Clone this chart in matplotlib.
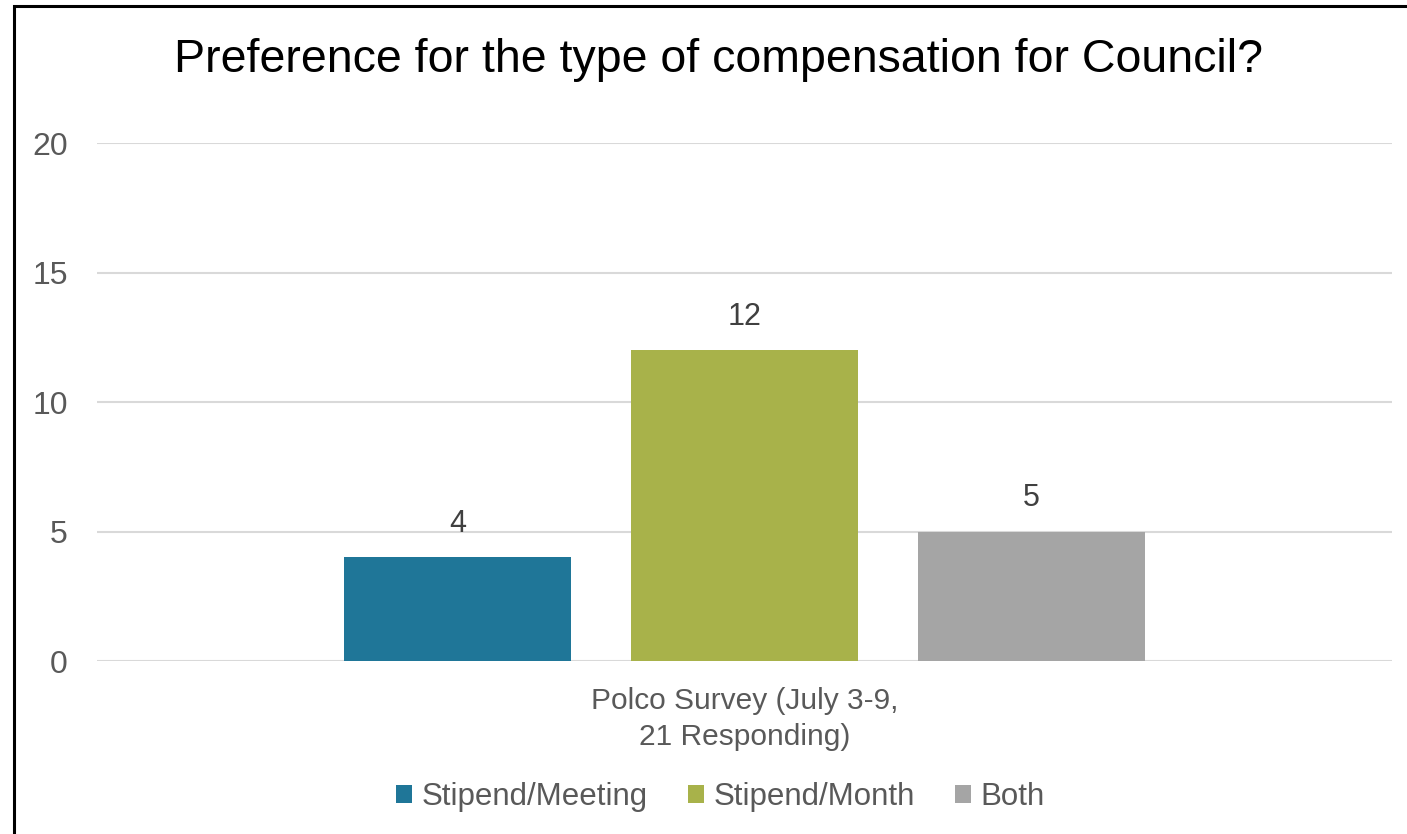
import matplotlib.pyplot as plt
from matplotlib.patches import Rectangle

categoria = "Polco Survey (July 3-9,\n21 Responding)"
series = ["Stipend/Meeting", "Stipend/Month", "Both"]
valores = [4, 12, 5]
cores = ["#1F7698", "#A8B24A", "#A5A5A5"]
yticks = [0, 5, 10, 15, 20]

plt.rcParams['font.family'] = ['Liberation Sans', 'DejaVu Sans']

fig = plt.figure(figsize=(14.07, 8.34), dpi=100)
ax = fig.add_axes([0.0689, 0.2074, 0.9204, 0.6211])

largura = 0.79
posicoes = [-1, 0, 1]
for pos, nome, val, cor in zip(posicoes, series, valores, cores):
    ax.bar(pos, val, width=largura, color=cor, label=nome, zorder=3)
    ax.annotate(f"{val}", (pos, val), xytext=(0, 13), textcoords='offset points',
                ha='center', va='bottom', fontsize=22, color='#404040')

ax.set_xlim(-2.256, 2.256)
ax.set_ylim(0, 20)
ax.set_yticks(yticks)
ax.set_xticks([0])
ax.set_xticklabels([categoria], fontsize=21.5, color='#595959', linespacing=1.35)
ax.tick_params(axis='y', length=0, pad=21, labelsize=23, labelcolor='#595959')
ax.tick_params(axis='x', length=0, pad=19)
ax.grid(axis='y', color='#D9D9D9', linewidth=1.5, zorder=0)
for lado in ax.spines.values():
    lado.set_visible(False)

fig.text(0.511, 0.9137, "Preference for the type of compensation for Council?",
         ha='center', va='baseline', fontsize=33.5, color='black')

fig.legend(loc='center', bbox_to_anchor=(0.512, 0.0444), ncol=3, frameon=False,
           fontsize=22.5, labelcolor='#595959', handlelength=0.5, handleheight=0.5,
           handletextpad=0.3, columnspacing=1.3)

# moldura do grafico (lados direito e inferior ficam fora da imagem)
fig.patches.append(Rectangle((14 / 1407, -0.02), 1.05, 1 - 6 / 834 + 0.02,
                             transform=fig.transFigure, fill=False,
                             edgecolor='black', linewidth=2.2, zorder=10))

plt.savefig("out.png", dpi=100)
